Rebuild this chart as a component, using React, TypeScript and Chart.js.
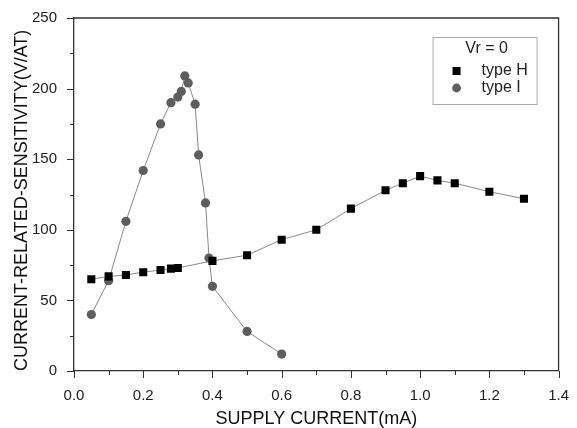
import React, { useEffect, useRef } from "react";
import { Chart, registerables } from "chart.js";

Chart.register(...registerables);

// Supply current (mA) and sensitivity (V/AT) for the two device types
const typeHCurrent = [0.05, 0.1, 0.15, 0.2, 0.25, 0.28, 0.3, 0.4, 0.5, 0.6, 0.7, 0.8, 0.9, 0.95, 1.0, 1.05, 1.1, 1.2, 1.3];
const typeHSensitivity = [65, 67, 68, 70, 71.5, 72.5, 73, 78, 82, 93, 100, 115, 128, 133, 138, 135, 133, 127, 122];

const typeICurrent = [0.05, 0.1, 0.15, 0.2, 0.25, 0.28, 0.3, 0.31, 0.32, 0.33, 0.35, 0.36, 0.38, 0.39, 0.4, 0.5, 0.6];
const typeISensitivity = [40, 64, 106, 142, 175, 190, 194, 198, 209, 204, 189, 153, 119, 80, 60, 28, 12];

const legendTitle = "Vr = 0";
const seriesNames = ["type H", "type I"];

const xTitle = "SUPPLY CURRENT(mA)";
const yTitle = "CURRENT-RELATED-SENSITIVITY(V/AT)";

const FONT = "'Liberation Sans', Arial, sans-serif";
const AXIS = "#333333";
const TEXT = "#222222";

// Frame on top/right plus major/minor ticks pointing outward
const framePlugin = {
  id: "frame",
  afterDraw(chart: any) {
    const { ctx, chartArea: a, scales } = chart;
    ctx.save();
    ctx.strokeStyle = AXIS;
    ctx.lineWidth = 1.3;
    ctx.beginPath();
    ctx.moveTo(a.left, a.top);
    ctx.lineTo(a.right, a.top);
    ctx.lineTo(a.right, a.bottom);
    ctx.stroke();

    ctx.lineWidth = 1;
    const xs = scales.x;
    xs.ticks.forEach((t: any) => {
      const px = Math.round(xs.getPixelForValue(t.value)) + 0.5;
      const major = Math.abs(Math.round(t.value * 10) % 2) === 0;
      ctx.beginPath();
      ctx.moveTo(px, a.bottom);
      ctx.lineTo(px, a.bottom + (major ? 7 : 4));
      ctx.stroke();
    });
    const ys = scales.y;
    ys.ticks.forEach((t: any) => {
      const py = Math.round(ys.getPixelForValue(t.value)) + 0.5;
      const major = Math.round(t.value) % 50 === 0;
      ctx.beginPath();
      ctx.moveTo(a.left, py);
      ctx.lineTo(a.left - (major ? 7 : 4), py);
      ctx.stroke();
    });
    ctx.restore();
  },
};

// Boxed legend inside the plot with a heading line
const boxLegendPlugin = {
  id: "boxLegend",
  afterDraw(chart: any) {
    const { ctx, chartArea: a } = chart;
    const left = a.right - 126;
    const top = a.top + 19;
    const w = 104;
    const h = 67;
    ctx.save();
    ctx.fillStyle = "#ffffff";
    ctx.fillRect(left, top, w, h);
    ctx.strokeStyle = "#aaaaaa";
    ctx.lineWidth = 1;
    ctx.strokeRect(left + 0.5, top + 0.5, w, h);

    ctx.fillStyle = TEXT;
    ctx.font = `16px ${FONT}`;
    ctx.textAlign = "center";
    ctx.textBaseline = "middle";
    ctx.fillText(legendTitle, left + w / 2 + 2, top + 12);

    ctx.textAlign = "left";
    chart.data.datasets.forEach((ds: any, i: number) => {
      const cy = top + 34 + i * 17;
      const cx = left + 24;
      ctx.fillStyle = ds.pointBackgroundColor;
      if (ds.pointStyle === "rect") {
        ctx.fillRect(cx - 4, cy - 4, 8, 8);
      } else {
        ctx.beginPath();
        ctx.arc(cx, cy, 4.4, 0, Math.PI * 2);
        ctx.fill();
      }
      ctx.fillStyle = TEXT;
      ctx.fillText(ds.label, left + 49, cy);
    });
    ctx.restore();
  },
};

export default function App() {
  const canvasRef = useRef<HTMLCanvasElement | null>(null);

  useEffect(() => {
    const canvas = canvasRef.current;
    if (!canvas) return;
    const chart = new Chart(canvas, {
      type: "line",
      data: {
        datasets: [
          {
            label: seriesNames[0],
            data: typeHCurrent.map((x, i) => ({ x, y: typeHSensitivity[i] })),
            borderColor: "#8a8a8a",
            borderWidth: 1,
            pointStyle: "rect",
            pointRadius: 5.7,
            pointBackgroundColor: "#000000",
            pointBorderWidth: 0,
            pointBorderColor: "#000000",
            tension: 0,
          } as any,
          {
            label: seriesNames[1],
            data: typeICurrent.map((x, i) => ({ x, y: typeISensitivity[i] })),
            borderColor: "#8a8a8a",
            borderWidth: 1,
            pointStyle: "circle",
            pointRadius: 4.6,
            pointBackgroundColor: "#5e5e5e",
            pointBorderWidth: 0,
            pointBorderColor: "#5e5e5e",
            tension: 0,
          } as any,
        ],
      },
      options: {
        animation: false,
        responsive: false,
        events: [],
        layout: { padding: { top: 18, right: 18, left: 0, bottom: 0 } },
        plugins: {
          legend: { display: false },
          tooltip: { enabled: false },
        },
        scales: {
          x: {
            type: "linear",
            min: 0,
            max: 1.4,
            grid: { display: false },
            border: { display: true, color: AXIS, width: 1.3 },
            ticks: {
              stepSize: 0.1,
              autoSkip: false,
              maxRotation: 0,
              padding: 8,
              color: TEXT,
              font: { family: FONT, size: 15 },
              callback: (v: any) => {
                const n = Math.round(Number(v) * 10);
                return n % 2 === 0 ? (n / 10).toFixed(1) : "";
              },
            },
            title: {
              display: true,
              text: xTitle,
              color: "#111111",
              font: { family: FONT, size: 18 },
              padding: { top: 0, bottom: -2 },
            },
            afterFit: (s: any) => {
              s.height = 57;
            },
          },
          y: {
            type: "linear",
            min: 0,
            max: 250,
            grid: { display: false },
            border: { display: true, color: AXIS, width: 1.3 },
            ticks: {
              stepSize: 25,
              autoSkip: false,
              padding: 9,
              color: TEXT,
              font: { family: FONT, size: 15 },
              callback: (v: any) => (Math.round(Number(v)) % 50 === 0 ? String(v) : ""),
            },
            title: {
              display: true,
              text: yTitle,
              align: "start",
              color: "#111111",
              font: { family: FONT, size: 18 },
              padding: { top: 11, bottom: 0 },
            },
            afterFit: (s: any) => {
              s.width = 74;
            },
          },
        },
      },
      plugins: [framePlugin, boxLegendPlugin],
    });
    return () => chart.destroy();
  }, []);

  return (
    <div style={{ position: "fixed", left: 0, top: 0, width: 577, height: 428, background: "#ffffff" }}>
      <canvas ref={canvasRef} width={577} height={428} style={{ width: 577, height: 428 }} />
    </div>
  );
}
